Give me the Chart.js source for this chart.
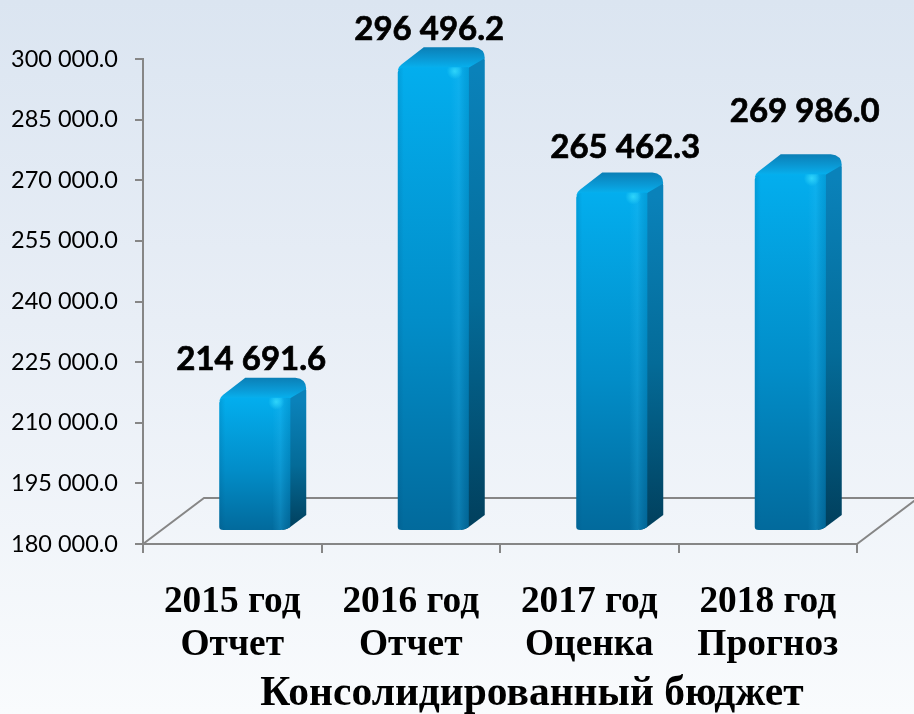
<!DOCTYPE html>
<html><head><meta charset="utf-8">
<script src="https://cdn.jsdelivr.net/npm/chart.js@4"></script>
<style>
html,body{margin:0;padding:0;width:914px;height:714px;overflow:hidden;background:linear-gradient(180deg,#dbe5f1 0%,#e8eef6 45%,#f9fbfd 100%)}
canvas{display:block}
</style></head><body>
<div style="width:914px;height:714px"><canvas id="c" width="914" height="714"></canvas></div>
<script>
const categories = [["2015 год","Отчет"],["2016 год","Отчет"],["2017 год","Оценка"],["2018 год","Прогноз"]];
const values = [214691.6, 296496.2, 265462.3, 269986.0];
const valueLabels = ["214 691.6","296 496.2","265 462.3","269 986.0"];
const chartTitle = "Консолидированный бюджет";
const axisMin = 180000, axisMax = 300000, axisStep = 15000;

const AXIS = "#868686";
const labelDX = [19, 18.5, 36, 37], labelDY = [-44, -44, -51, -69];
const fmt = v => { const s = Math.round(v).toString(); return s.slice(0,3)+" "+s.slice(3)+".0"; };

function lin(ctx,x0,y0,x1,y1,stops){const g=ctx.createLinearGradient(x0,y0,x1,y1);stops.forEach(([o,c])=>g.addColorStop(o,c));return g;}

const floor = {
  id:"floor",
  beforeDatasetsDraw(ch){
    const {ctx,chartArea:a}=ch;
    ctx.save();ctx.strokeStyle=AXIS;ctx.lineWidth=2;
    ctx.beginPath();
    ctx.moveTo(a.left,a.bottom);ctx.lineTo(a.left+61,a.bottom-46);ctx.lineTo(ch.width,a.bottom-46);
    ctx.moveTo(a.right,a.bottom);ctx.lineTo(a.right+61,a.bottom-46);
    ctx.stroke();ctx.restore();
  }
};

const bars3d = {
  id:"bars3d",
  afterDatasetsDraw(ch){
    const {ctx}=ch, meta=ch.getDatasetMeta(0);
    meta.data.forEach((el,i)=>{
      const L=el.x-13, R=L+71, RR=L+87, T=el.y-3, B=el.base-13;
      ctx.save();
      // side face
      ctx.beginPath();
      ctx.moveTo(R-1,T-3);ctx.lineTo(RR-2,T-14);ctx.quadraticCurveTo(RR,T-13,RR,T-10);
      ctx.lineTo(RR,B-15);ctx.lineTo(R,B-3);ctx.quadraticCurveTo(R-4,B,R-8,B);ctx.closePath();
      ctx.fillStyle=lin(ctx,0,T,0,B,[[0,"#0a82ba"],[0.5,"#046b98"],[1,"#013f5c"]]);ctx.fill();
      // top face
      ctx.beginPath();
      ctx.moveTo(L,T);ctx.quadraticCurveTo(L+1,T-4,L+4,T-6);ctx.lineTo(L+26,T-23);
      ctx.lineTo(RR-11,T-23);ctx.quadraticCurveTo(RR,T-22,RR,T-12);
      ctx.lineTo(R-1,T-2);ctx.lineTo(L,T);ctx.closePath();
      ctx.fillStyle=lin(ctx,0,T-23,0,T-1,[[0,"#0b7fb6"],[0.55,"#0a9ad6"],[1,"#06b4f2"]]);ctx.fill();
      // front face: vertical shading
      ctx.beginPath();
      ctx.moveTo(L,T+2);ctx.quadraticCurveTo(L+1,T-3,L+7,T-3);ctx.lineTo(R-10,T-3);ctx.quadraticCurveTo(R-2,T-4,R,T-3);
      ctx.lineTo(R,B-3);ctx.quadraticCurveTo(R-4,B,R-10,B);ctx.lineTo(L+4,B);ctx.quadraticCurveTo(L,B,L,B-3);ctx.closePath();
      ctx.fillStyle=lin(ctx,0,T-3,0,B,[[0,"#03aeee"],[0.55,"#028dc8"],[1,"#026a9c"]]);ctx.fill();
      ctx.clip();
      // bevel highlight at the right edge of the front
      ctx.fillStyle=lin(ctx,R-18,0,R,0,[[0,"rgba(50,190,245,0)"],[0.45,"rgba(50,190,245,0.22)"],[1,"rgba(0,70,110,0.15)"]]);
      ctx.fillRect(R-18,T-3,18,B-T+3);
      ctx.fillStyle=lin(ctx,L,0,L+6,0,[[0,"rgba(0,60,100,0.15)"],[1,"rgba(0,60,100,0)"]]);
      ctx.fillRect(L,T-3,6,B-T+3);
      // specular point
      const sp=ctx.createRadialGradient(R-14,T+1,0,R-14,T+1,8);
      sp.addColorStop(0,"rgba(60,225,255,0.75)");sp.addColorStop(1,"rgba(60,225,255,0)");
      ctx.fillStyle=sp;
      ctx.fillRect(R-24,T-9,20,20);
      ctx.restore();
      // value label
      ctx.save();
      ctx.fillStyle="#000";ctx.strokeStyle="#000";ctx.lineWidth=0.7;ctx.font="bold 33px Lato";ctx.textAlign="center";ctx.textBaseline="middle";
      ctx.fillText(valueLabels[i],el.x+labelDX[i],el.y+labelDY[i]);
      ctx.strokeText(valueLabels[i],el.x+labelDX[i],el.y+labelDY[i]);
      ctx.restore();
    });
    ctx.save();
    ctx.fillStyle="#000";ctx.font="bold 41.5px 'Liberation Serif'";ctx.textAlign="center";ctx.textBaseline="middle";
    ctx.fillText(chartTitle,532,694);
    ctx.restore();
  }
};

new Chart(document.getElementById("c"),{
  type:"bar",
  data:{labels:categories,datasets:[{data:values,base:axisMin,backgroundColor:"rgba(0,0,0,0)",borderWidth:0,barPercentage:0.8,categoryPercentage:0.5}]},
  plugins:[floor,bars3d],
  options:{
    responsive:false,animation:false,events:[],
    layout:{padding:{top:59,right:57,bottom:0,left:0}},
    plugins:{legend:{display:false},title:{display:false},tooltip:{enabled:false}},
    scales:{
      x:{
        afterFit(s){s.height=170;},
        grid:{drawOnChartArea:false,color:AXIS,lineWidth:2,tickLength:9,offset:true},
        border:{color:AXIS,width:2},
        ticks:{color:"#000",padding:28,maxRotation:0,autoSkip:false,font:{family:"'Liberation Serif'",size:37.4,weight:"bold",lineHeight:1.15}}
      },
      y:{
        min:axisMin,max:axisMax,
        afterFit(s){s.width=143;},
        grid:{drawOnChartArea:false,color:AXIS,lineWidth:2,tickLength:8},
        border:{color:AXIS,width:2},
        ticks:{stepSize:axisStep,color:"#000",padding:17,callback:fmt,font:{family:"Lato",size:23.5}}
      }
    }
  }
});
</script></body></html>
